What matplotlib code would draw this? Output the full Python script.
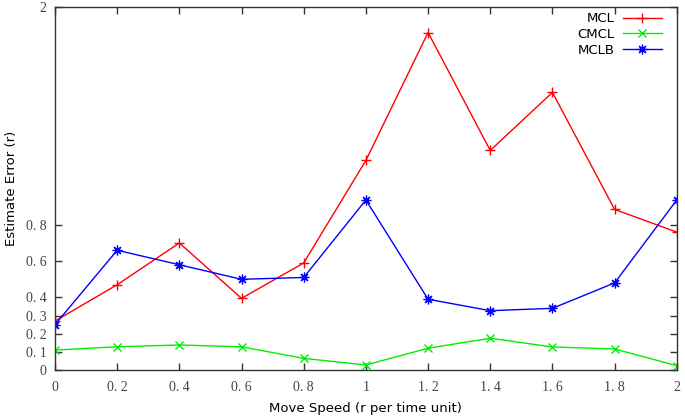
import matplotlib
matplotlib.use("Agg")
import matplotlib.pyplot as plt

# data
speeds = [0.0, 0.2, 0.4, 0.6, 0.8, 1.0, 1.2, 1.4, 1.6, 1.8, 2.0]
mcl = [0.27, 0.47, 0.70, 0.395, 0.59, 1.155, 1.86, 1.21, 1.53, 0.885, 0.76]
cmcl = [0.11, 0.128, 0.138, 0.128, 0.064, 0.028, 0.12, 0.175, 0.127, 0.116, 0.024]
mclb = [0.25, 0.66, 0.58, 0.50, 0.51, 0.937, 0.39, 0.327, 0.34, 0.48, 0.937]

x_ticks = [0, 0.2, 0.4, 0.6, 0.8, 1.0, 1.2, 1.4, 1.6, 1.8, 2.0]
x_tick_labels = ["0", "0. 2", "0. 4", "0. 6", "0. 8", "1", "1. 2", "1. 4", "1. 6", "1. 8", "2"]
y_ticks = [0, 0.1, 0.2, 0.3, 0.4, 0.6, 0.8, 2]
y_tick_labels = ["0", "0. 1", "0. 2", "0. 3", "0. 4", "0. 6", "0. 8", "2"]

fig = plt.figure(figsize=(6.85, 4.18), dpi=100)
ax = fig.add_axes([0.0803, 0.1148, 0.9077, 0.8682])

asterisk = (8, 2, 0)
ax.plot(speeds, mcl, color="#ff0000", lw=1, marker="+", ms=7, mew=1, label="MCL")
ax.plot(speeds, cmcl, color="#00ee00", lw=1, marker="x", ms=5.5, mew=1, label="CMCL")
ax.plot(speeds, mclb, color="#0000ff", lw=1, marker=asterisk, ms=7, mew=0.9, label="MCLB")

ax.set_xlim(0, 2)
ax.set_ylim(0, 2)
ax.set_xticks(x_ticks)
ax.set_xticklabels(x_tick_labels, family="Liberation Serif", fontsize=10, color="#444444")
ax.set_yticks(y_ticks)
ax.set_yticklabels(y_tick_labels, family="Liberation Serif", fontsize=10, color="#444444")
ax.tick_params(direction="in", length=5, width=1, top=True, right=True, color="#333333")
ax.tick_params(axis="x", pad=8)
ax.tick_params(axis="y", pad=6)
for s in ax.spines.values():
    s.set_color("#333333")
    s.set_linewidth(1)

ax.set_xlabel("Move Speed (r per time unit)", fontsize=9.5, labelpad=6)
ax.set_ylabel("Estimate Error (r)", fontsize=9.5, labelpad=6)

ax.legend(loc="upper right", frameon=False, markerfirst=False, fontsize=9.5,
          handlelength=3.0, labelspacing=0.2, borderaxespad=0.0,
          bbox_to_anchor=(0.985, 1.0), handletextpad=0.6)

fig.savefig("out.png", dpi=100)
